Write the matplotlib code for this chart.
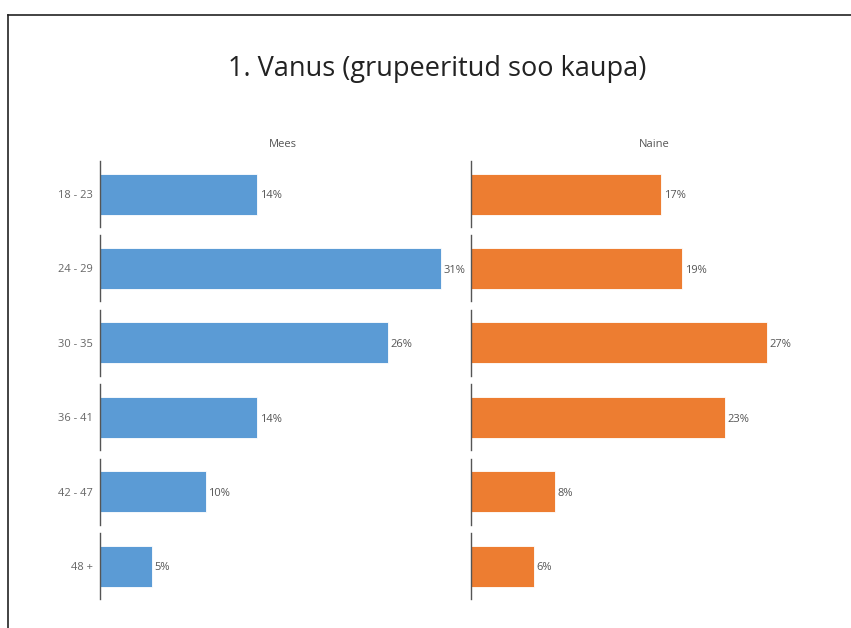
import matplotlib
import numpy as np

matplotlib.use("Agg")

from matplotlib import pyplot as plt
from matplotlib.lines import Line2D

plt.rcParams["font.family"] = ["Open Sans", "DejaVu Sans"]

TITLE = "1. Vanus (grupeeritud soo kaupa)"
AGE_GROUPS = ["18 - 23", "24 - 29", "30 - 35", "36 - 41", "42 - 47", "48 +"]
GENDERS = ["Mees", "Naine"]
MEES_PCT = [14.3, 31.0, 26.2, 14.3, 9.6, 4.7]
NAINE_PCT = [17.3, 19.2, 26.9, 23.1, 7.6, 5.7]
COLORS = ["#5b9bd5", "#ed7d31"]

W, H = 851, 628
X_MAX = 33.3


def fx(px: float) -> float:
    return px / W


def fy(py: float) -> float:
    return 1 - py / H


def main() -> None:
    figure = plt.figure(figsize=(W / 100, H / 100), dpi=100)
    series = [MEES_PCT, NAINE_PCT]
    col_left = [100, 471]
    col_width = 366
    row_top = 161
    row_step = 74.4
    row_height = 66
    bar_height = 41 / row_height

    for col, (gender, values) in enumerate(zip(GENDERS, series)):
        for row, (group, value) in enumerate(zip(AGE_GROUPS, values)):
            top = row_top + row * row_step
            axis = figure.add_axes([fx(col_left[col]), fy(top + row_height), col_width / W, row_height / H])
            axis.barh([0], [value], height=bar_height, color=COLORS[col], edgecolor="#ffffff", linewidth=0.6)
            axis.text(value + 0.25, -0.03, f"{value:.0f}%", va="center", ha="left", fontsize=8, color="#555555")
            axis.set_xlim(0, X_MAX)
            axis.set_ylim(-0.5, 0.5)
            axis.set_xticks([])
            axis.set_yticks([0])
            axis.set_yticklabels([group] if col == 0 else [""])
            axis.tick_params(axis="y", length=0, pad=5, labelsize=8, labelcolor="#666666")
            for side in ("top", "right", "bottom"):
                axis.spines[side].set_visible(False)
            axis.spines["left"].set_color("#555555")
            axis.spines["left"].set_linewidth(1.0)
            axis.patch.set_alpha(0)
            if row == 0:
                axis.set_title(gender, fontsize=8, color="#555555", pad=10)

    figure.text(fx(437), fy(69), TITLE, ha="center", va="center", fontsize=19.5, color="#222222")
    figure.add_artist(Line2D([fx(8), 1], [fy(15), fy(15)], color="#222222", linewidth=1.2))
    figure.add_artist(Line2D([fx(8), fx(8)], [fy(15), 0], color="#222222", linewidth=1.2))
    figure.savefig("out.png", dpi=100)
    plt.close(figure)


if __name__ == "__main__":
    main()
